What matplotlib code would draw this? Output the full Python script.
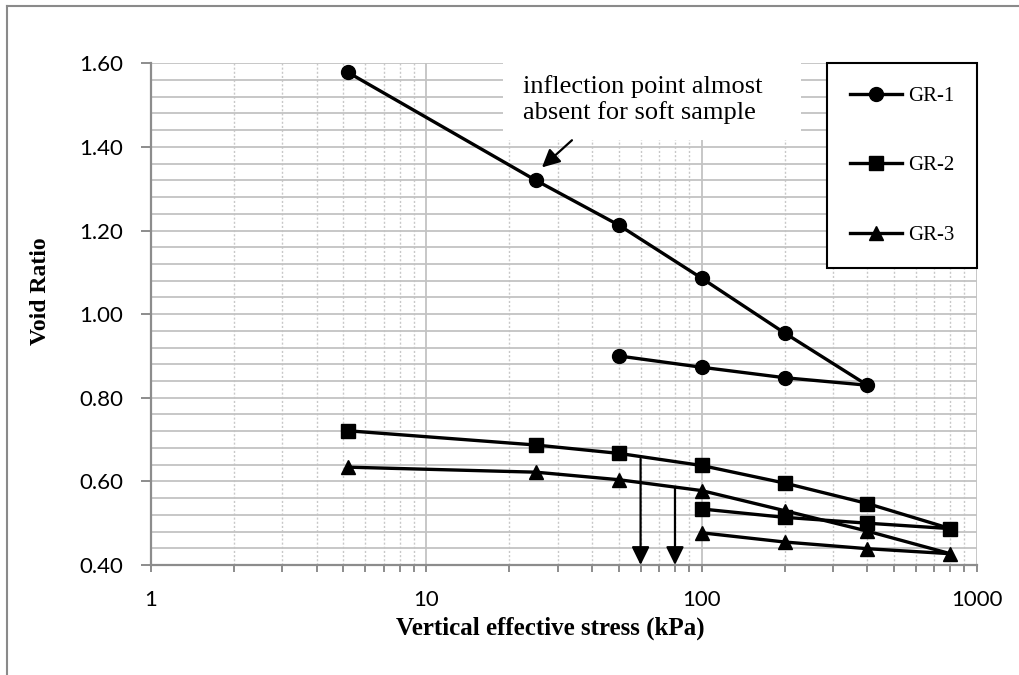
import matplotlib
matplotlib.use("Agg")
import matplotlib.pyplot as plt
from matplotlib.lines import Line2D
from matplotlib.patches import Rectangle
from matplotlib.ticker import FixedLocator, LogLocator, NullFormatter

# ---- data ----
gr1_stress = [5.2, 25, 50, 100, 200, 400, 200, 100, 50]
gr1_void = [1.578, 1.320, 1.213, 1.086, 0.955, 0.830, 0.848, 0.873, 0.900]

gr2_stress = [5.2, 25, 50, 100, 200, 400, 800, 400, 200, 100]
gr2_void = [0.721, 0.687, 0.667, 0.638, 0.596, 0.547, 0.487, 0.500, 0.514, 0.534]

gr3_stress = [5.2, 25, 50, 100, 200, 400, 800, 400, 200, 100]
gr3_void = [0.634, 0.622, 0.604, 0.578, 0.530, 0.481, 0.427, 0.439, 0.455, 0.477]

series_names = ["GR-1", "GR-2", "GR-3"]
series_markers = ["o", "s", "^"]

arrow_x = [60, 80]
arrow_top = [0.654, 0.584]

x_ticks = [1, 10, 100, 1000]
x_tick_labels = ["1", "10", "100", "1000"]
y_ticks = [0.40, 0.60, 0.80, 1.00, 1.20, 1.40, 1.60]

annotation_text = "inflection point almost\nabsent for soft sample"

# ---- figure ----
serif = ["Liberation Serif", "DejaVu Serif"]
tickfont = ["Lato", "DejaVu Sans"]

fig = plt.figure(figsize=(10.2, 6.75), dpi=100)
ax = fig.add_axes([151 / 1020, 1 - 565 / 675, 826 / 1020, 501.7 / 675])
ax.set_xscale("log")
ax.set_xlim(1, 1000)
ax.set_ylim(0.40, 1.60)

# grid
ax.set_axisbelow(True)
ax.xaxis.set_major_locator(FixedLocator(x_ticks))
ax.xaxis.set_minor_locator(LogLocator(base=10, subs=range(2, 10)))
ax.xaxis.set_minor_formatter(NullFormatter())
ax.set_xticklabels(x_tick_labels)
ax.set_yticks(y_ticks)
ax.set_yticklabels([f"{v:.2f}" for v in y_ticks])
ax.yaxis.set_minor_locator(FixedLocator([0.40 + 0.04 * i for i in range(31)]))

gridc = "#c3c3c3"
ax.grid(which="major", axis="both", color=gridc, lw=1.3, ls="-")
ax.grid(which="minor", axis="y", color=gridc, lw=1.3, ls="-")
ax.grid(which="minor", axis="x", color="#c8c8c8", lw=1.0, ls=(0, (1.5, 1.5)))

for side in ["top", "right"]:
    ax.spines[side].set_visible(False)
for side in ["left", "bottom"]:
    ax.spines[side].set_color("#8c8c8c")
    ax.spines[side].set_linewidth(1.6)

ax.tick_params(axis="y", which="major", direction="out", length=7, width=1.4,
               color="#8c8c8c", pad=13, labelsize=16)
ax.tick_params(axis="y", which="minor", length=0)
ax.tick_params(axis="x", which="major", direction="out", length=5, width=1.4,
               color="#8c8c8c", pad=13, labelsize=16)
ax.tick_params(axis="x", which="minor", direction="out", length=5, width=1.4,
               color="#8c8c8c")
for lab in ax.get_xticklabels() + ax.get_yticklabels():
    lab.set_family(tickfont)

# white box behind annotation text (covers gridlines)
ax.add_patch(Rectangle((19.0, 1.416), 229.6 - 19.0, 1.63 - 1.416,
                       facecolor="white", edgecolor="none", zorder=1,
                       clip_on=False))

# series
handles = []
for xs, ys, name, mk in zip([gr1_stress, gr2_stress, gr3_stress],
                            [gr1_void, gr2_void, gr3_void],
                            series_names, series_markers):
    h, = ax.plot(xs, ys, color="black", lw=2.4, marker=mk, markersize=10,
                 markerfacecolor="black", markeredgecolor="black", label=name,
                 zorder=3, clip_on=False)
    handles.append(h)

# vertical arrows
for xa, ya in zip(arrow_x, arrow_top):
    ax.annotate("", xy=(xa, 0.40), xytext=(xa, ya),
                arrowprops=dict(arrowstyle="-|>,head_length=0.55,head_width=0.27",
                                color="black", lw=1.6, shrinkA=0, shrinkB=0,
                                mutation_scale=20),
                zorder=4, annotation_clip=False)

# inflection annotation
ax.annotate("", xy=(26.3, 1.351), xytext=(33.8, 1.416),
            arrowprops=dict(arrowstyle="-|>,head_length=0.6,head_width=0.3",
                            color="black", lw=1.6, shrinkA=0, shrinkB=0,
                            mutation_scale=18),
            zorder=4)
ax.text(22.4, 1.5126, annotation_text, family=serif, fontsize=19,
        ha="left", va="center", zorder=5, linespacing=1.16)

# legend
leg = ax.legend(handles=handles, loc="upper right", bbox_to_anchor=(1.0, 1.0),
                borderaxespad=0, prop={"family": serif, "size": 15},
                frameon=True, fancybox=False, framealpha=1, edgecolor="black",
                labelspacing=2.4, handlelength=2.5, handletextpad=0.25,
                borderpad=1.1)
leg.get_frame().set_linewidth(1.5)
leg.set_zorder(6)

# axis labels
ax.set_xlabel("Vertical effective stress (kPa)", family=serif, fontsize=18,
              fontweight="bold")
ax.xaxis.set_label_coords((550 - 151) / 826, (565 - 628) / 501.7)
ax.xaxis.label.set_va("center")
ax.set_ylabel("Void Ratio", family=serif, fontsize=17, fontweight="bold")
ax.yaxis.set_label_coords((40 - 151) / 826, (565 - 291) / 501.7)
ax.yaxis.label.set_va("center")

# chart area border (gray)
fig.add_artist(Line2D([7.5 / 1020, 7.5 / 1020], [0, 1 - 6 / 675],
                      transform=fig.transFigure, color="#8a8a8a", lw=1.5))
fig.add_artist(Line2D([7.5 / 1020, 1], [1 - 6 / 675, 1 - 6 / 675],
                      transform=fig.transFigure, color="#8a8a8a", lw=1.5))

fig.savefig("out.png", dpi=100, facecolor="white")
